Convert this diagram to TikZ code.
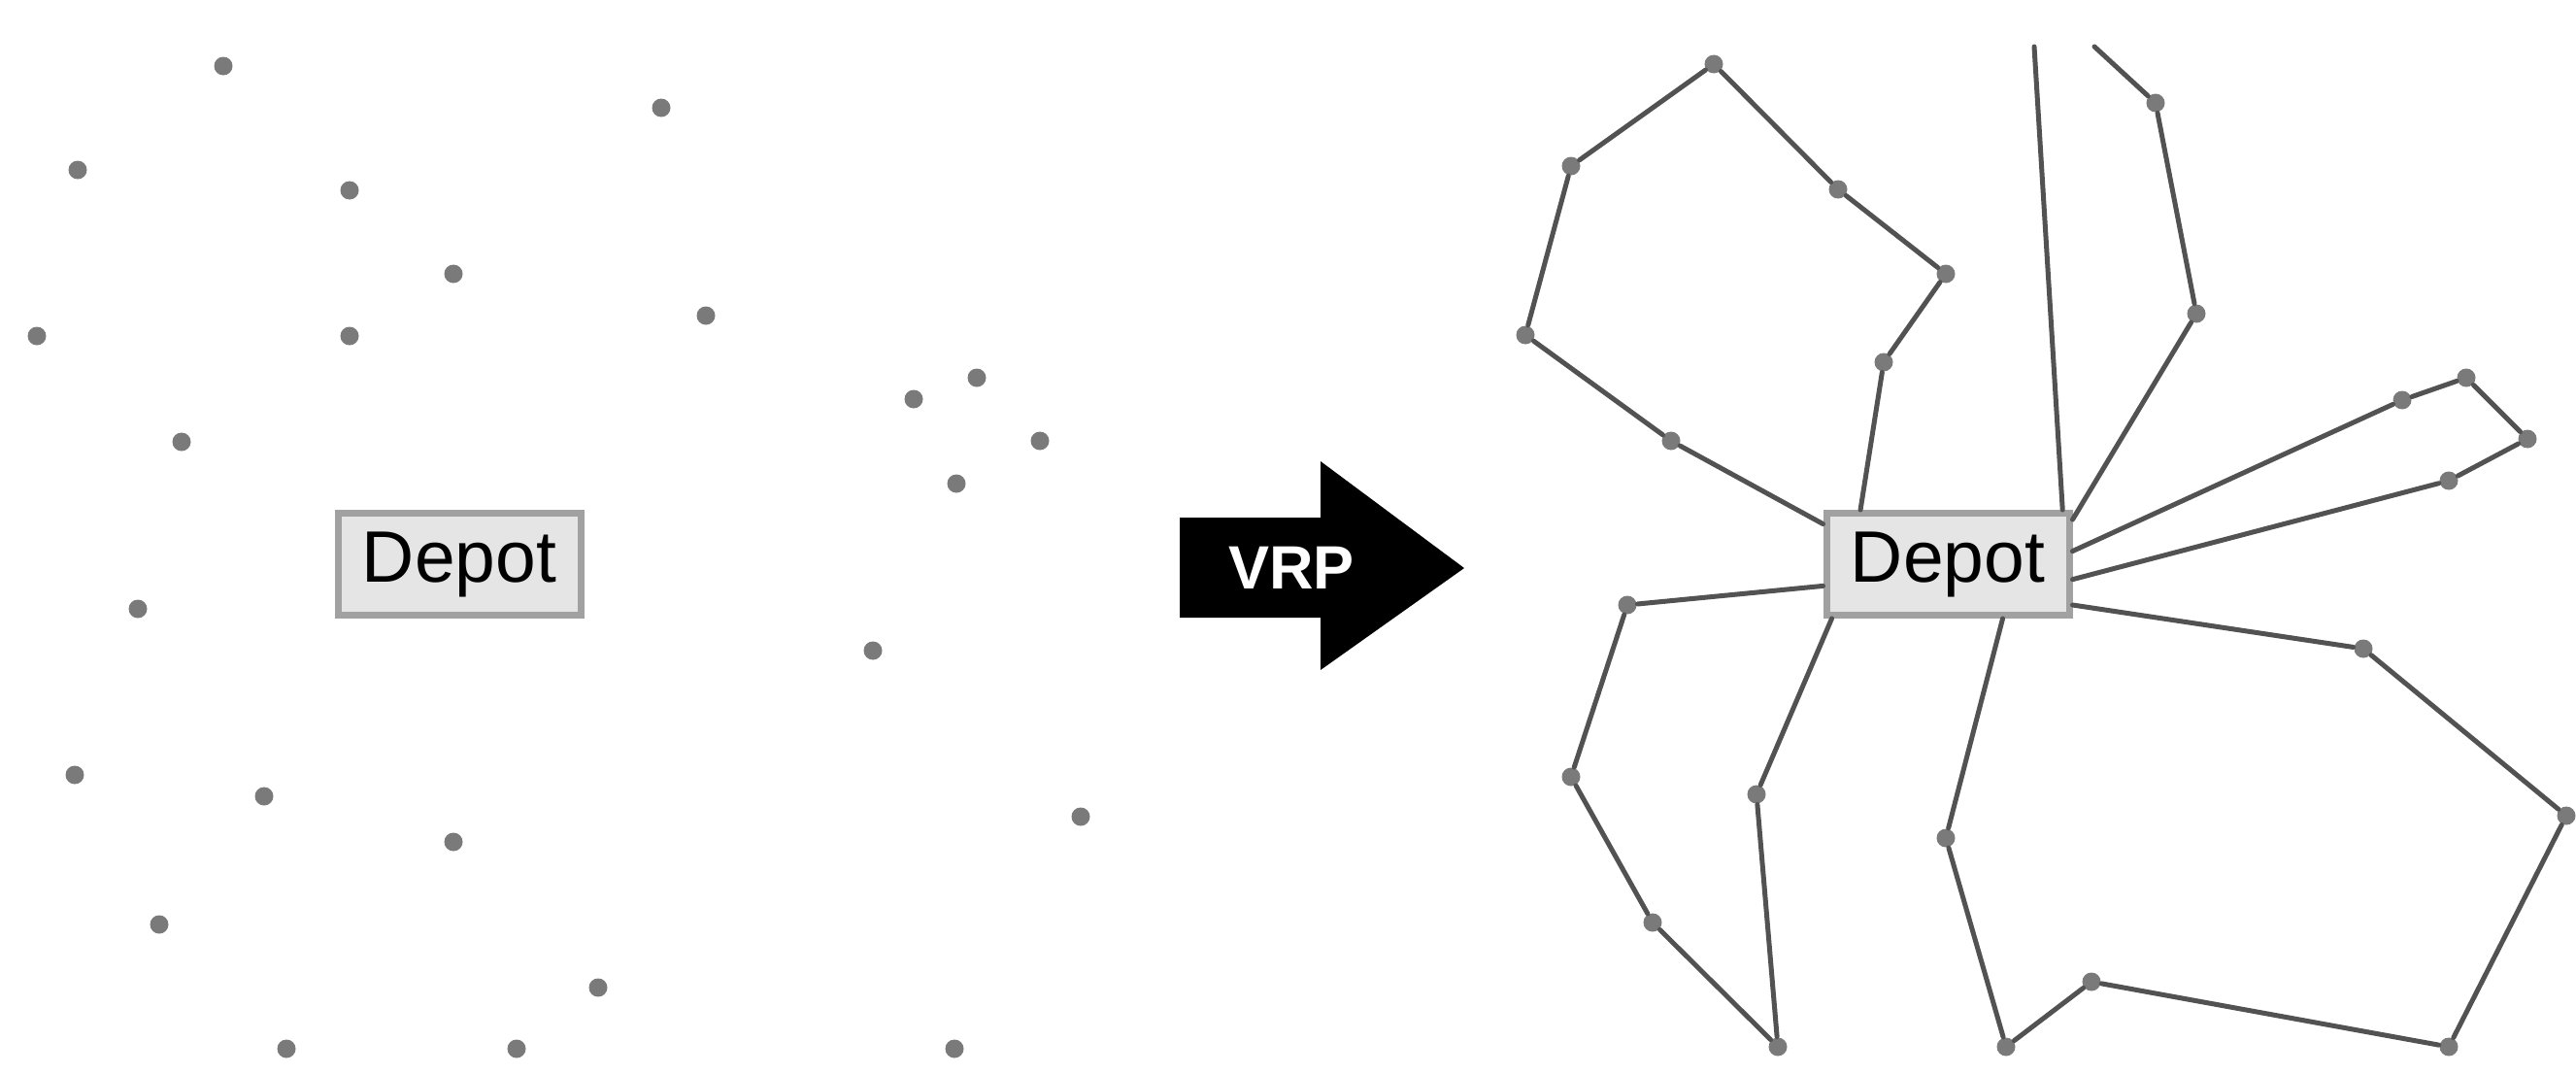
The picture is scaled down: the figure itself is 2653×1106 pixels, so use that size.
\documentclass[tikz,border=0pt]{standalone}
\usepackage{fontspec}
\setmainfont{Liberation Sans}
\usetikzlibrary{calc}
\begin{document}
\begin{tikzpicture}[x=0.2pt,y=-0.2pt,
  cust/.style={circle,fill=black!52,inner sep=0pt,minimum size=3.8pt},
  depot/.style={rectangle,draw=black!37,line width=1.4pt,fill=black!10,
    minimum width=50pt,minimum height=21pt,inner sep=0pt,
    font=\fontsize{15}{17}\selectfont,text=black},
  route/.style={draw=black!68,line width=1pt,line join=round,line cap=round},
  lbl/.style={text=white,font=\bfseries\fontsize{12.6}{14}\selectfont,inner sep=0pt}]
\useasboundingbox (0,0) rectangle (2653,1106);

% ---------- left: customers and depot ----------
\node[depot] (dL) at (473,581) {Depot};
\foreach \n/\x/\y in {1/230/68,2/681/111,3/80/175,4/360/196,5/467/282,6/727/325,
  7/38/346,8/360/346,9/1006/389,10/941/411,11/187/455,12/1071/454,13/985/498,
  14/142/627,15/899/670,16/77/798,17/272/820,18/467/867,19/1113/841,20/164/952,
  21/616/1017,22/295/1080,23/532/1080,24/983/1080}
  \node[cust] (L\n) at (\x,\y) {};

% ---------- arrow ----------
\fill[black] (1215,533) -- (1360,533) -- (1360,475) -- (1508,585) -- (1360,690)
  -- (1360,636) -- (1215,636) -- cycle;
\node[lbl] (vrp) at (1330,585) {VRP};

% ---------- right: solution ----------
\node[depot] (dR) at (2006,581) {Depot};
\foreach \n/\x/\y in {1/1765/66,2/1618/171,3/1893/195,4/2004/282,5/1571/345,
  6/1940/373,7/1721/454,8/2220/106,9/2262/323,10/2540/389,11/2474/412,
  12/2603/452,13/2522/495,14/1676/623,15/1618/800,16/1809/818,17/2004/863,
  18/2434/668,19/2643/840,20/1702/950,21/2154/1011,22/1831/1078,23/2066/1078,
  24/2522/1078}
  \node[cust] (R\n) at (\x,\y) {};
\coordinate (T1) at (2095,48);
\coordinate (T2) at (2157,48);

% route A
\draw[route] ($(dR.north west)!0.13!(dR.south west)$) -- (R7) -- (R5) -- (R2)
  -- (R1) -- (R3) -- (R4) -- (R6) -- ($(dR.north west)!0.15!(dR.north east)$);
% route B
\draw[route] ($(dR.north west)!0.70!(dR.south west)$) -- (R14) -- (R15) -- (R20)
  -- (R22) -- (R16) -- ($(dR.south west)!0.035!(dR.south east)$);
% route C
\draw[route] ($(dR.south west)!0.72!(dR.south east)$) -- (R17) -- (R23) -- (R21)
  -- (R24) -- (R19) -- (R18) -- ($(dR.north east)!0.875!(dR.south east)$);
% route D (leaves the picture at the top)
\draw[route] ($(dR.north west)!0.96!(dR.north east)$) -- (T1);
\draw[route] (T2) -- (R8) -- (R9) -- ($(dR.north east)!0.09!(dR.south east)$);
% route E
\draw[route] ($(dR.north east)!0.38!(dR.south east)$) -- (R11) -- (R10) -- (R12)
  -- (R13) -- ($(dR.north east)!0.64!(dR.south east)$);
\end{tikzpicture}
\end{document}
